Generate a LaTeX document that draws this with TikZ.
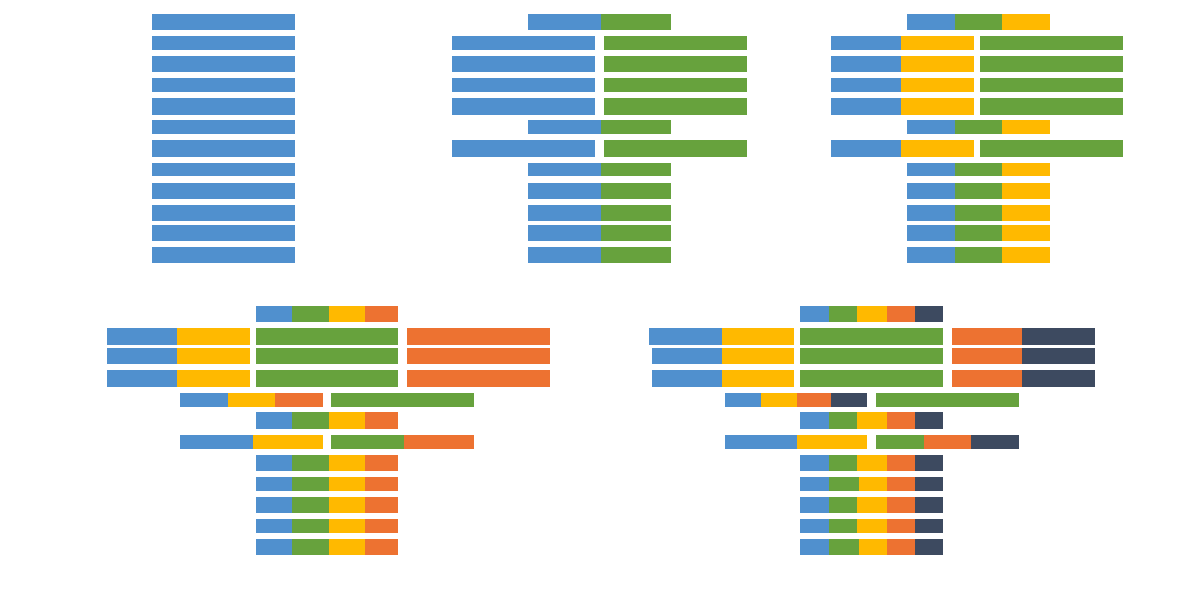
\documentclass[tikz,border=0pt]{standalone}
\definecolor{cb}{HTML}{5090CE}
\definecolor{cg}{HTML}{67A23D}
\definecolor{cy}{HTML}{FFB900}
\definecolor{co}{HTML}{ED7231}
\definecolor{cn}{HTML}{3D4A60}
\begin{document}
\begin{tikzpicture}[x=1pt,y=-1pt]
\useasboundingbox (0,0) rectangle (1200,600);
\fill[white] (0,0) rectangle (1200,600);
% ---------- panel 1 ----------
\foreach \a/\b in {14/30.3,36.3/50.3,56.3/72.3,78.3/92.3,98.3/114.7,120.3/134.3,140.3/156.7,162.7/176.3,182.7/199,204.7/221,224.7/241,247/263.3}
  \fill[cb] (151.7,\a) rectangle (295,\b);
% ---------- panel 2 ----------
\foreach \a/\b in {14/30.3,120.3/134.3,162.7/176.3,182.7/199,204.7/221,224.7/241,247/263.3}{
  \fill[cb] (528,\a) rectangle (601.3,\b);
  \fill[cg] (601.3,\a) rectangle (671,\b);}
\foreach \a/\b in {36.3/50.3,56.3/72.3,78.3/92.3,98.3/114.7,140.3/156.7}{
  \fill[cb] (452.3,\a) rectangle (595.3,\b);
  \fill[cg] (603.7,\a) rectangle (746.7,\b);}
% ---------- panel 3 ----------
\foreach \a/\b in {14/30.3,120.3/134.3,162.7/176.3,182.7/199,204.7/221,224.7/241,247/263.3}{
  \fill[cb] (907,\a) rectangle (954.7,\b);
  \fill[cg] (954.7,\a) rectangle (1002.3,\b);
  \fill[cy] (1002.3,\a) rectangle (1050,\b);}
\foreach \a/\b in {36.3/50.3,56.3/72.3,78.3/92.3,98.3/114.7,140.3/156.7}{
  \fill[cb] (831.3,\a) rectangle (901.3,\b);
  \fill[cy] (901.3,\a) rectangle (974.3,\b);
  \fill[cg] (980.3,\a) rectangle (1123.3,\b);}
% ---------- panel 4 ----------
\foreach \a/\b in {306/322.3,412.3/429,454.7/471,477/490.7,496.7/513,519/532.7,538.7/555}{
  \fill[cb] (255.7,\a) rectangle (292,\b);
  \fill[cg] (292,\a) rectangle (328.7,\b);
  \fill[cy] (328.7,\a) rectangle (365,\b);
  \fill[co] (365,\a) rectangle (398.3,\b);}
\foreach \a/\b in {328.3/345,348/364.3,370.3/387}{
  \fill[cb] (107,\a) rectangle (177,\b);
  \fill[cy] (177,\a) rectangle (250,\b);
  \fill[cg] (256,\a) rectangle (398.3,\b);
  \fill[co] (407,\a) rectangle (550.3,\b);}
\fill[cb] (180,393) rectangle (227.7,406.7);
\fill[cy] (227.7,393) rectangle (275.3,406.7);
\fill[co] (275.3,393) rectangle (322.7,406.7);
\fill[cg] (331.3,393) rectangle (474.3,406.7);
\fill[cb] (180,435) rectangle (252.7,448.7);
\fill[cy] (252.7,435) rectangle (322.7,448.7);
\fill[cg] (331.3,435) rectangle (404.3,448.7);
\fill[co] (404.3,435) rectangle (474.3,448.7);
% ---------- panel 5 ----------
\foreach \a/\b/\c in {306/322.3/856.7,412.3/429/856.7,454.7/471/856.7,477/490.7/859.3,496.7/513/856.7,519/532.7/856.7,538.7/555/859.3}{
  \fill[cb] (800.3,\a) rectangle (828.7,\b);
  \fill[cg] (828.7,\a) rectangle (\c,\b);
  \fill[cy] (\c,\a) rectangle (887.3,\b);
  \fill[co] (887.3,\a) rectangle (915.3,\b);
  \fill[cn] (915.3,\a) rectangle (943.3,\b);}
\foreach \a/\b/\c in {328.3/345/648.7,348/364.3/651.7,370.3/387/651.7}{
  \fill[cb] (\c,\a) rectangle (721.7,\b);
  \fill[cy] (721.7,\a) rectangle (794.3,\b);
  \fill[cg] (800.3,\a) rectangle (943.3,\b);
  \fill[co] (951.7,\a) rectangle (1022,\b);
  \fill[cn] (1022,\a) rectangle (1095,\b);}
\fill[cb] (724.7,393) rectangle (761,406.7);
\fill[cy] (761,393) rectangle (797.3,406.7);
\fill[co] (797.3,393) rectangle (831.3,406.7);
\fill[cn] (831.3,393) rectangle (867.3,406.7);
\fill[cg] (876,393) rectangle (1019.3,406.7);
\fill[cb] (724.7,435) rectangle (797.3,448.7);
\fill[cy] (797.3,435) rectangle (867.3,448.7);
\fill[cg] (876,435) rectangle (923.7,448.7);
\fill[co] (923.7,435) rectangle (971.3,448.7);
\fill[cn] (971.3,435) rectangle (1019.3,448.7);
\end{tikzpicture}
\end{document}
